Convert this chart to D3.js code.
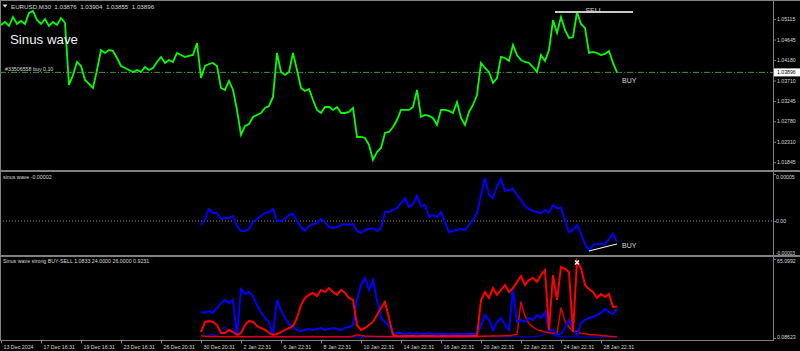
<!DOCTYPE html>
<html>
<head>
<meta charset="utf-8">
<script src="https://cdn.jsdelivr.net/npm/d3@7"></script>
<style>
  html, body { margin: 0; padding: 0; background: #000; }
  svg { display: block; }
  text { font-family: "Liberation Sans", Arial, sans-serif; fill: #d8d8d8; }
</style>
</head>
<body>
<svg width="800" height="351"></svg>
<script>
// time axis labels, one every 10 bars
const timeLabels = ["13 Dec 2024", "17 Dec 16:31", "19 Dec 16:31", "23 Dec 16:31", "26 Dec 20:31",
  "30 Dec 20:31", "2 Jan 22:31", "6 Jan 22:31", "8 Jan 22:31", "10 Jan 22:31", "14 Jan 22:31",
  "16 Jan 22:31", "20 Jan 22:31", "22 Jan 22:31", "24 Jan 22:31", "28 Jan 22:31"];

// EURUSD M30 close (sampled)
const price = [1.04978,1.05047,1.04955,1.05161,1.05001,1.05070,1.05001,1.05252,1.05298,1.05092,
  1.05001,1.05115,1.04955,1.05047,1.04978,1.05138,1.05024,1.03609,1.03837,1.04134,
  1.04042,1.03723,1.03631,1.03540,1.03951,1.04408,1.04339,1.04408,1.04385,1.04225,
  1.04042,1.03997,1.03951,1.03905,1.03951,1.03905,1.04019,1.03951,1.03997,1.04134,
  1.04248,1.04111,1.04179,1.04134,1.04339,1.04293,1.04248,1.04271,1.04293,1.04567,
  1.03768,1.04042,1.04088,1.04111,1.04042,1.03540,1.03494,1.03700,1.03494,1.03038,
  1.02467,1.02672,1.02718,1.02878,1.02923,1.02969,1.03083,1.03129,1.03335,1.04339,
  1.03905,1.03837,1.03905,1.04339,1.03951,1.03540,1.03472,1.03517,1.03266,1.03038,
  1.02969,1.03106,1.03106,1.03038,1.03106,1.02969,1.02969,1.02992,1.03083,1.02421,
  1.02421,1.02398,1.02239,1.01896,1.02079,1.02170,1.02512,1.02535,1.02649,1.02809,
  1.03038,1.03038,1.03038,1.03106,1.03494,1.02878,1.02923,1.02901,1.02855,1.02695,
  1.03038,1.03038,1.03015,1.02969,1.03220,1.02855,1.02695,1.02992,1.03152,1.03380,
  1.04111,1.03997,1.03905,1.03654,1.03768,1.04248,1.04225,1.04156,1.04522,1.04293,
  1.04179,1.04134,1.04111,1.04019,1.03905,1.04293,1.04156,1.04408,1.05092,1.04796,
  1.05161,1.04864,1.04681,1.04704,1.05275,1.05001,1.04910,1.04339,1.04362,1.04339,
  1.04293,1.04316,1.04385,1.04111,1.03896];
const lastPrice = 1.03896;
const priceTicks = [1.05115, 1.04645, 1.04180, 1.03710, 1.03245, 1.02780, 1.02310, 1.01845];

// indicators start at this bar
const indStart = 50;

const sinusWave = [-0.39e-5,0.20e-5,1.18e-5,0.78e-5,0.78e-5,0.20e-5,0.29e-5,0.29e-5,0.49e-5,-0.49e-5,
  -0.98e-5,-0.98e-5,-0.78e-5,-0.10e-5,0.20e-5,0.49e-5,0.78e-5,0.88e-5,1.18e-5,0,
  0,0.20e-5,0.59e-5,0.69e-5,0,-0.59e-5,-0.98e-5,-0.49e-5,-0.29e-5,-0.20e-5,
  0.20e-5,-0.10e-5,-0.59e-5,-0.69e-5,-0.59e-5,-0.39e-5,-0.29e-5,-0.39e-5,-0.29e-5,-0.98e-5,
  -1.18e-5,-0.88e-5,-0.78e-5,-0.69e-5,-0.98e-5,-0.69e-5,0.88e-5,0.88e-5,1.08e-5,1.27e-5,
  1.76e-5,2.25e-5,1.37e-5,1.67e-5,2.45e-5,1.47e-5,1.57e-5,0.39e-5,0.59e-5,0.39e-5,
  0.88e-5,-0.10e-5,-1.08e-5,-0.98e-5,-0.88e-5,-0.78e-5,-0.88e-5,-0.39e-5,0.10e-5,0.78e-5,
  2.55e-5,4.22e-5,2.55e-5,2.25e-5,3.43e-5,4.12e-5,2.94e-5,3.04e-5,3.14e-5,2.55e-5,
  2.06e-5,1.47e-5,1.18e-5,0.98e-5,0.88e-5,0.78e-5,1.08e-5,0.78e-5,1.57e-5,1.27e-5,
  1.27e-5,0.10e-5,-1.08e-5,-0.88e-5,-0.39e-5,-1.27e-5,-2.25e-5,-2.84e-5,-2.35e-5,-2.25e-5,
  -2.25e-5,-2.25e-5,-1.76e-5,-1.27e-5,-2.06e-5];
const sinusRange = [-0.0000343, 0.0000461];

const strongBlue = [21.5,20.7,22.3,20.7,24.8,28.9,31.4,28.9,31.4,2.6,
  40.4,36.3,37.9,34.6,27.2,21.5,16.5,13.3,2.6,31.4,
  23.1,16.5,11.6,9.1,6.7,5.9,6.7,7.5,6.7,7.5,
  8.3,6.7,7.5,8.3,7.5,6.7,8.3,9.1,10.8,31.4,
  43.7,49.5,39.6,47.8,31.4,16.5,13.3,10.0,4.2,4.2,
  4.2,3.4,4.2,3.4,4.2,3.4,3.4,4.2,3.4,3.4,
  3.6,3.4,3.2,3.4,3.4,3.3,3.4,3.5,3.4,3.6,
  10.8,19.0,14.9,6.7,13.3,16.5,10.8,6.7,39.6,13.3,
  14.9,13.3,16.5,14.9,19.0,16.5,21.5,6.7,6.7,2.6,
  3.4,8.3,14.9,6.7,2.6,12.4,14.9,16.5,17.4,19.0,
  20.7,24.0,21.5,19.8,24.0];
const strongRed = [5.0,13.3,14.1,13.3,10.8,4.2,4.2,6.7,5.0,2.6,
  4.2,10.8,14.1,13.3,10.0,8.3,6.7,4.2,2.6,3.4,
  5.0,6.7,8.3,10.0,16.5,27.2,33.0,35.5,37.1,34.6,
  39.6,37.9,41.2,37.9,35.5,39.6,37.1,33.0,31.4,10.8,
  6.7,8.3,10.8,13.3,19.0,24.8,29.7,16.5,2.6,1.7,
  1.6,1.7,1.8,1.7,1.6,1.7,1.7,1.8,1.7,1.6,
  1.7,1.7,1.6,1.7,1.8,1.7,1.6,1.7,1.7,1.8,
  31.4,37.9,33.0,41.2,35.5,39.6,43.7,37.9,41.2,46.2,
  51.1,43.7,47.8,49.5,46.2,51.9,56.0,6.7,51.9,31.4,
  58.5,56.9,54.4,5.0,63.5,57.7,43.7,40.4,37.9,33.0,
  36.3,33.8,36.3,25.6,26.0];
const strongRedThin = [1.8,1.5,1.4,1.3,1.3,1.2,1.2,1.3,1.2,1.2,
  1.3,1.2,1.2,1.2,1.3,1.2,1.2,1.2,1.2,1.3,
  1.2,1.2,1.2,1.3,1.2,1.2,1.2,1.2,1.3,1.2,
  1.2,1.2,1.2,1.2,1.3,1.2,1.2,1.2,1.5,2.8,
  2.2,1.8,1.6,1.5,1.4,1.3,1.3,1.2,1.2,1.2,
  1.2,1.2,1.2,1.2,1.2,1.2,1.2,1.2,1.2,1.2,
  1.2,1.2,1.2,1.2,1.2,1.2,1.2,1.2,1.2,1.2,
  1.5,1.8,1.6,2.0,1.8,1.7,2.2,2.0,2.5,3.0,
  30,18,12,9,7,6,5,4.5,4,3.5,
  25,14,9,6,5,4,3.5,3,2.8,2.5,
  2.2,2.0,1.6,1.3,1.0833];
const strongBlueThin = [0.9,1.5,2.5,3.2,1.8,7,9,5,8,2.6,
  1.2,1.0,0.9,0.9,0.9,0.9,0.9,1.0,0.9,0.9,
  0.9,0.9,0.9,0.9,0.9,0.9,0.9,0.9,0.9,0.9,
  0.9,0.9,0.9,0.9,0.9,0.9,0.9,0.9,0.9,0.9,
  0.9,0.9,0.9,0.9,0.9,0.9,0.9,0.9,0.9,0.9,
  0.9,0.9,0.9,0.9,0.9,0.9,0.9,0.9,0.9,0.9,
  0.9,0.9,0.9,0.9,0.9,0.9,0.9,0.9,0.9,0.9,
  1.2,1.5,1.3,1.0,1.4,1.2,1.0,0.9,1.8,1.2,
  1.0,0.9,1.0,1.1,1.5,2.0,3.0,6.0,2.5,1.2,
  1.0,0.9,0.9,1.0,0.9,0.9,0.9,0.9,0.9,0.9,
  0.9,0.9,0.9,0.9,0.9231];
const strongRange = [0.08623, 65.0992];

// chart objects
const sellLine = { from: 138.5, to: 158, price: 1.05275 };
const buyLine = [{ i: 147, v: -2.94e-5 }, { i: 154, v: -2.25e-5 }];
const arrowBar = 144;

const svg = d3.select('svg');
const axisX = 773;
const grid = "#808080";

svg.append("rect").attr("width", 800).attr("height", 351).attr("fill", "#000");

const x = d3.scaleLinear().domain([0, price.length - 1]).range([1, 617]);
const yPrice = d3.scaleLinear().domain([1.01845, 1.05115]).range([162.2, 19]);
const ySinus = d3.scaleLinear().domain(sinusRange).range([256, 174]);
const yStrong = d3.scaleLinear().domain(strongRange).range([338, 259]);

function clip(id, y0, y1) {
  svg.append("clipPath").attr("id", id)
    .append("rect").attr("x", 0).attr("y", y0).attr("width", axisX).attr("height", y1 - y0);
}
clip("cMain", 1, 170);
clip("cSin", 172, 255);
clip("cStr", 257, 340);

// frame and separators
svg.append("line").attr("x1", 0).attr("x2", 800).attr("y1", 0.5).attr("y2", 0.5).attr("stroke", grid);
svg.append("line").attr("x1", 0.5).attr("x2", 0.5).attr("y1", 0).attr("y2", 340).attr("stroke", grid);
[171, 256].forEach(y => {
  svg.append("line").attr("x1", 0).attr("x2", 800).attr("y1", y).attr("y2", y)
    .attr("stroke", grid).attr("stroke-width", 2);
});
svg.append("line").attr("x1", 0).attr("x2", axisX).attr("y1", 340.5).attr("y2", 340.5).attr("stroke", grid);
svg.append("line").attr("x1", axisX + 0.5).attr("x2", axisX + 0.5).attr("y1", 0).attr("y2", 341).attr("stroke", grid);

// ---- main panel
const gMain = svg.append("g").attr("clip-path", "url(#cMain)");

gMain.append("line")
  .attr("x1", 0).attr("x2", axisX)
  .attr("y1", yPrice(lastPrice)).attr("y2", yPrice(lastPrice))
  .attr("stroke", "#2f9a3a").attr("stroke-dasharray", "6,2,1,2");

gMain.append("path")
  .datum(price)
  .attr("fill", "none")
  .attr("stroke", "#00ff00")
  .attr("stroke-width", 1.8)
  .attr("stroke-linejoin", "miter")
  .attr("d", d3.line().x((d, i) => x(i)).y(d => yPrice(d)));

gMain.append("line")
  .attr("x1", x(sellLine.from)).attr("x2", x(sellLine.to))
  .attr("y1", yPrice(sellLine.price)).attr("y2", yPrice(sellLine.price))
  .attr("stroke", "#c8c8c8").attr("stroke-width", 2);
svg.append("text").attr("x", (x(sellLine.from) + x(sellLine.to)) / 2).attr("y", yPrice(sellLine.price) + 0.8)
  .attr("text-anchor", "middle").attr("font-size", 7).text("SELL");
svg.append("text").attr("x", 622).attr("y", 83).attr("font-size", 7).text("BUY");

svg.append("path").attr("d", "M2.5,4.5 L7.5,4.5 L5,7.5 Z").attr("fill", "#e0e0e0");
svg.append("text").attr("x", 11).attr("y", 9).attr("font-size", 6.2)
  .attr("xml:space", "preserve")
  .text("EURUSD,M30  1.03876  1.03904  1.03855  1.03896");
svg.append("text").attr("x", 10).attr("y", 44).attr("font-size", 13.3)
  .style("fill", "#f2f2f2").text("Sinus wave");
svg.append("text").attr("x", 5).attr("y", 71).attr("font-size", 5.3).text("#33506558 buy 0.10");

// ---- sinus wave panel
const gSin = svg.append("g").attr("clip-path", "url(#cSin)");
gSin.append("line").attr("x1", 0).attr("x2", axisX)
  .attr("y1", ySinus(0)).attr("y2", ySinus(0))
  .attr("stroke", "#b8860b").attr("stroke-dasharray", "1,2");
gSin.append("path")
  .datum(sinusWave)
  .attr("fill", "none")
  .attr("stroke", "#0000ff")
  .attr("stroke-width", 2)
  .attr("d", d3.line().x((d, i) => x(i + indStart)).y(d => ySinus(d)));
gSin.append("line")
  .attr("x1", x(buyLine[0].i)).attr("y1", ySinus(buyLine[0].v))
  .attr("x2", x(buyLine[1].i)).attr("y2", ySinus(buyLine[1].v))
  .attr("stroke", "#ffffff").attr("stroke-width", 1);
svg.append("text").attr("x", 622).attr("y", 248).attr("font-size", 7).text("BUY");
svg.append("text").attr("x", 3).attr("y", 179).attr("font-size", 5.3).text("sinus wave -0.00002");

// ---- strong buy-sell panel
const gStr = svg.append("g").attr("clip-path", "url(#cStr)");
const strongLine = d3.line().x((d, i) => x(i + indStart)).y(d => yStrong(d));
[[strongBlueThin, "#0000ff", 1], [strongRedThin, "#e00000", 1.5],
 [strongBlue, "#0000ff", 2], [strongRed, "#ff0000", 2]].forEach(([s, c, w]) => {
  gStr.append("path").datum(s)
    .attr("fill", "none").attr("stroke", c).attr("stroke-width", w)
    .attr("d", strongLine);
});
const ax = x(arrowBar), ay = yStrong(strongRed[arrowBar - indStart]) + 1.5;
svg.append("path")
  .attr("d", `M${ax - 2},${ay - 2} L${ax + 2},${ay + 2} M${ax + 2},${ay - 2} L${ax - 2},${ay + 2}`)
  .attr("stroke", "#ffffff").attr("stroke-width", 1.3);
svg.append("text").attr("x", 3).attr("y", 263).attr("font-size", 5.3)
  .text("Sinus wave strong BUY-SELL 1.0833 24.0000 26.0000 0.9231");

// ---- right price scales
function styleAxis(g) {
  g.select(".domain").remove();
  g.selectAll(".tick line").attr("stroke", grid);
  g.selectAll(".tick text").attr("font-size", 5.2)
    .attr("font-family", '"Liberation Sans", Arial, sans-serif').attr("fill", "#c8c8c8");
}

svg.append("g").attr("transform", `translate(${axisX},0)`)
  .call(d3.axisRight(yPrice).tickValues(priceTicks).tickFormat(d3.format(".5f")).tickSize(3).tickPadding(1))
  .call(styleAxis);

svg.append("rect").attr("x", axisX + 1).attr("y", yPrice(lastPrice) - 4)
  .attr("width", 27).attr("height", 8).attr("fill", "#ffffff");
svg.append("text").attr("x", axisX + 4).attr("y", yPrice(lastPrice) + 2)
  .attr("font-size", 5.2).style("fill", "#000").text(d3.format(".5f")(lastPrice));

const sinFmt = d => d === 0 ? "0.00" : d3.format(".5f")(d).replace("\u2212", "-");
svg.append("g").attr("transform", `translate(${axisX},0)`)
  .call(d3.axisRight(ySinus).tickValues([sinusRange[1], 0, sinusRange[0]]).tickFormat(sinFmt).tickSize(3).tickPadding(0))
  .call(styleAxis)
  .call(g => {
    g.selectAll(".tick").filter(d => d === sinusRange[1]).select("text").attr("dy", "0.9em");
    g.selectAll(".tick").filter(d => d === sinusRange[0]).select("text").attr("dy", "-0.3em")
      .attr("font-size", 5).attr("letter-spacing", -0.1);
  });

svg.append("g").attr("transform", `translate(${axisX},0)`)
  .call(d3.axisRight(yStrong).tickValues(strongRange.slice().reverse())
    .tickFormat(d => d === strongRange[1] ? "65.0992" : "0.08623").tickSize(3).tickPadding(1))
  .call(styleAxis)
  .call(g => {
    g.selectAll(".tick").filter(d => d === strongRange[1]).select("text").attr("dy", "0.7em");
    g.selectAll(".tick").filter(d => d === strongRange[0]).select("text").attr("dy", "0.1em");
  });

// ---- time axis
svg.append("g").attr("transform", "translate(0,340.5)")
  .call(d3.axisBottom(x).tickValues(timeLabels.map((t, i) => i * 10))
    .tickFormat((d, i) => timeLabels[i]).tickSize(3).tickPadding(2))
  .call(g => {
    g.select(".domain").remove();
    g.selectAll(".tick line").attr("stroke", grid);
    g.selectAll(".tick text").attr("text-anchor", "start").attr("x", 2)
      .attr("font-size", 5.3).attr("font-family", '"Liberation Sans", Arial, sans-serif').attr("fill", "#c8c8c8");
  });
</script>
</body>
</html>
